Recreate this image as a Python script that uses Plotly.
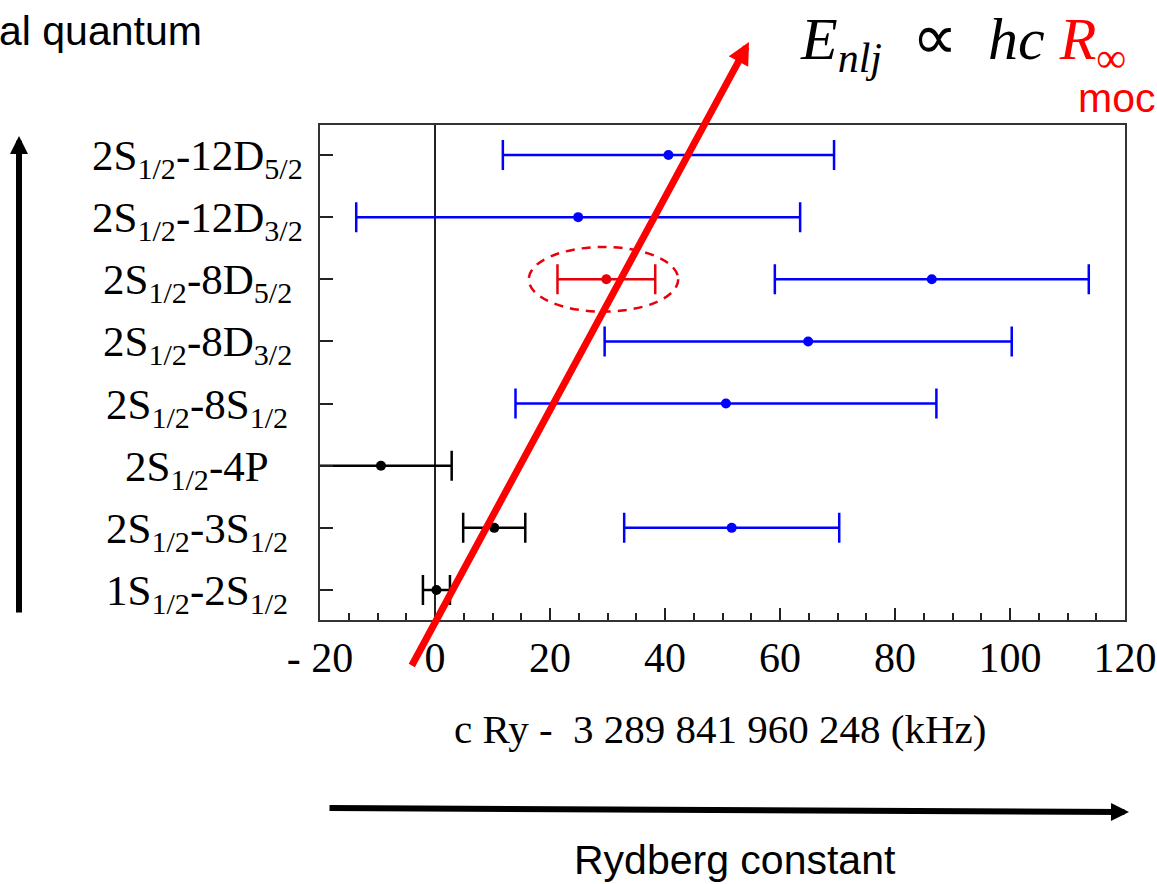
import plotly.graph_objects as go

# ---------------- data ----------------
row_labels = [
    "1S<sub>1/2</sub>-2S<sub>1/2</sub>",
    "2S<sub>1/2</sub>-3S<sub>1/2</sub>",
    "2S<sub>1/2</sub>-4P",
    "2S<sub>1/2</sub>-8S<sub>1/2</sub>",
    "2S<sub>1/2</sub>-8D<sub>3/2</sub>",
    "2S<sub>1/2</sub>-8D<sub>5/2</sub>",
    "2S<sub>1/2</sub>-12D<sub>3/2</sub>",
    "2S<sub>1/2</sub>-12D<sub>5/2</sub>",
]
row_index = list(range(len(row_labels)))

black_rows = [0, 1, 2]
black_vals = [0.25, 10.3, -9.4]
black_errs = [2.35, 5.4, 12.3]

blue_rows = [1, 3, 4, 5, 6, 7]
blue_vals = [51.6, 50.6, 64.9, 86.4, 24.9, 40.6]
blue_errs = [18.7, 36.6, 35.4, 27.3, 38.6, 28.8]

red_rows = [5]
red_vals = [29.8]
red_errs = [8.5]

x_tickvals = [-20, 0, 20, 40, 60, 80, 100, 120]
x_ticktext = ["- 20", "0", "20", "40", "60", "80", "100", "120"]

# ---------------- layout geometry ----------------
W, H = 1157, 884
L, R, T, B = 320, 1125, 125, 620


def px2x(px):
    return (px - L) / (R - L)


def py2y(py):
    return (B - py) / (B - T)


SERIF = "Liberation Serif, Times New Roman, serif"
SANS = "Liberation Sans, Arial, sans-serif"
NB = "\u00a0"

fig = go.Figure()


def add_series(rows, vals, errs, color):
    fig.add_trace(go.Scatter(
        x=vals, y=rows, mode="markers",
        marker=dict(color=color, size=10),
        error_x=dict(type="data", array=errs, visible=True,
                     color=color, thickness=2.5, width=15),
        showlegend=False, hoverinfo="x+y",
    ))


add_series(black_rows, black_vals, black_errs, "#000000")
add_series(blue_rows, blue_vals, blue_errs, "#0000FF")
add_series(red_rows, red_vals, red_errs, "#E8000A")

# dashed ellipse around red measurement
rv, re, rr = red_vals[0], red_errs[0], red_rows[0]
fig.add_shape(type="circle", xref="x", yref="y",
              x0=rv - re - 5.0, x1=rv + re + 4.0,
              y0=rr - 0.52, y1=rr + 0.52,
              line=dict(color="#E8000A", width=2.5, dash="9px,7px"))

annotations = []

# y category labels (centered)
for i, lab in zip(row_index, row_labels):
    annotations.append(dict(
        text=lab, x=px2x(197), xref="paper", y=i, yref="y",
        xanchor="center", yanchor="middle", showarrow=False,
        yshift=-4,
        font=dict(family=SERIF, size=43, color="black")))

# x axis title
annotations.append(dict(
    text="c Ry -" + NB + NB + "3 289 841 960 248 (kHz)", x=px2x(720), y=py2y(729),
    xref="paper", yref="paper", xanchor="center", yanchor="middle",
    showarrow=False, font=dict(family=SERIF, size=41, color="black")))

# top-left text
annotations.append(dict(
    text="al quantum", x=px2x(-3), y=py2y(31), xref="paper", yref="paper",
    xanchor="left", yanchor="middle", showarrow=False,
    font=dict(family=SANS, size=41, color="black")))

# formula
annotations.append(dict(
    text="<i>E</i><sub><i>nlj</i></sub>" + NB + NB
         + "<span style='font-size:64px'>\u221d</span>" + NB + NB
         + "<i>hc</i>" + NB
         + "<span style='color:#FF0000'><i>R</i><sub>\u221e</sub></span>",
    x=px2x(798), y=py2y(0), xref="paper", yref="paper",
    xanchor="left", yanchor="top", showarrow=False,
    font=dict(family=SERIF, size=60, color="black")))

# red "moc..."
annotations.append(dict(
    text="moc", x=px2x(1157), y=py2y(98), xref="paper", yref="paper",
    xanchor="right", yanchor="middle", showarrow=False,
    font=dict(family=SANS, size=41, color="#FF0000")))

# bottom text
annotations.append(dict(
    text="Rydberg constant", x=px2x(735), y=py2y(860), xref="paper", yref="paper",
    xanchor="center", yanchor="middle", showarrow=False,
    font=dict(family=SANS, size=41, color="black")))

# big red arrow
annotations.append(dict(
    text="", x=px2x(749), y=py2y(42), xref="paper", yref="paper",
    ax=411 - 749, ay=667 - 42, axref="pixel", ayref="pixel",
    showarrow=True, arrowhead=2, arrowsize=0.63, arrowwidth=7,
    arrowcolor="#FF0000", standoff=0))

# left vertical black arrow
annotations.append(dict(
    text="", x=px2x(19), y=py2y(136), xref="paper", yref="paper",
    ax=0, ay=614 - 136, showarrow=True, arrowhead=2, arrowsize=0.6,
    arrowwidth=6, arrowcolor="#000000", standoff=0))

# bottom horizontal black arrow
annotations.append(dict(
    text="", x=px2x(1129), y=py2y(812), xref="paper", yref="paper",
    ax=328 - 1129, ay=808 - 812, showarrow=True, arrowhead=2, arrowsize=0.6,
    arrowwidth=6, arrowcolor="#000000", standoff=0))

fig.update_layout(
    template="none",
    width=W, height=H, autosize=False,
    margin=dict(l=L, r=W - R, t=T, b=H - B, pad=0, autoexpand=False),
    paper_bgcolor="white", plot_bgcolor="white",
    showlegend=False,
    annotations=annotations,
    xaxis=dict(
        range=[-20, 120], tickvals=x_tickvals, ticktext=x_ticktext,
        automargin=False,
        ticks="inside", ticklen=12, tickwidth=2, tickcolor="#222",
        minor=dict(dtick=5, tick0=0, ticks="inside", ticklen=7,
                   tickwidth=1.5, tickcolor="#222"),
        showline=True, linecolor="#333", linewidth=2, mirror=True,
        showgrid=False, zeroline=True, zerolinecolor="#222",
        zerolinewidth=2,
        tickfont=dict(family=SERIF, size=42, color="black"),
        fixedrange=True,
    ),
    yaxis=dict(
        range=[-0.483, 7.483], tickvals=row_index, showticklabels=False,
        automargin=False,
        ticks="inside", ticklen=13, tickwidth=2, tickcolor="#222",
        showline=True, linecolor="#333", linewidth=2, mirror=True,
        showgrid=False, zeroline=False, fixedrange=True,
    ),
)

fig.write_html("out.html")
